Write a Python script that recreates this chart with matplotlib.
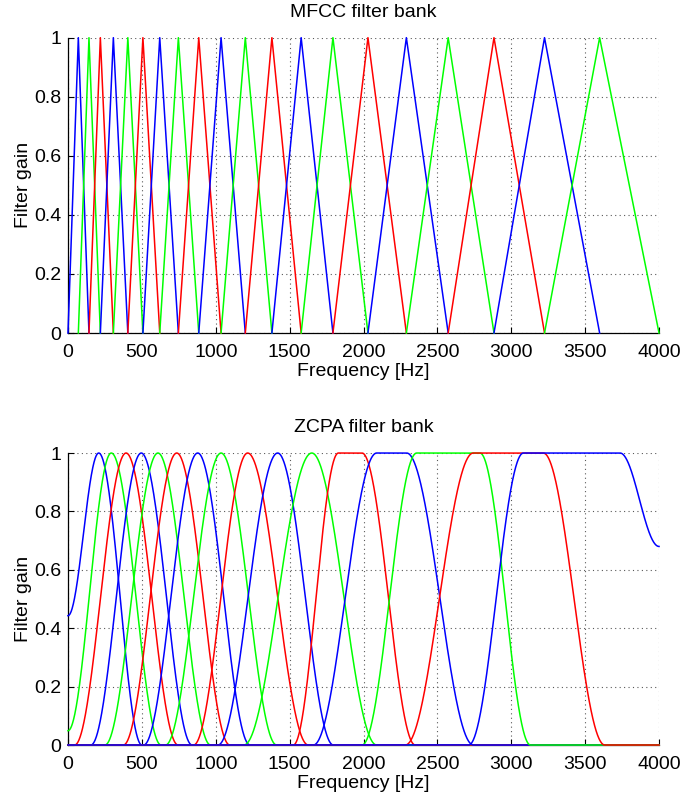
import numpy as np
import matplotlib
matplotlib.use("Agg")
import matplotlib.pyplot as plt

plt.rcParams["font.family"] = ["Liberation Sans", "DejaVu Sans"]

# MFCC: triangle corner frequencies (Hz)
mfcc_edges = [0, 70, 142, 219, 307, 405, 507, 621, 747, 885, 1036, 1200,
              1380, 1578, 1793, 2030, 2290, 2573, 2883, 3225, 3598, 4000]

# ZCPA: per filter lower edge, flat start, flat end, upper edge (Hz)
zcpa_lo = [0, 0, 45, 155, 250, 375, 512, 660, 850, 1015, 1190, 1525, 1661, 1990, 2283, 2712]
zcpa_b = [208, 293, 393, 496, 609, 736, 878, 1036, 1216, 1419, 1650, 1830, 2089, 2360, 2743, 3082]
zcpa_c = [208, 293, 393, 496, 609, 736, 878, 1036, 1216, 1419, 1650, 1990, 2292, 2788, 3217, 3736]
zcpa_hi = [500, 630, 745, 840, 965, 1095, 1232, 1412, 1626, 1796, 2089, 2350, 2744, 3130, 3633, 4000]
# gain at the lower / upper edge (non-zero only where the edge is 0 Hz or 4000 Hz)
zcpa_vlo = [0.443, 0.049, 0, 0, 0, 0, 0, 0, 0, 0, 0, 0, 0, 0, 0, 0]
zcpa_vhi = [0, 0, 0, 0, 0, 0, 0, 0, 0, 0, 0, 0, 0, 0, 0, 0.68]

colors = ["#0000ff", "#00ff00", "#ff0000"]


def smooth_filter(f, a, b, c, d, va, vd):
    h = np.zeros_like(f)
    rise = (f >= a) & (f < b)
    h[rise] = va + (1 - va) * (0.5 - 0.5 * np.cos(np.pi * (f[rise] - a) / (b - a)))
    h[(f >= b) & (f <= c)] = 1.0
    fall = (f > c) & (f <= d)
    h[fall] = vd + (1 - vd) * (0.5 + 0.5 * np.cos(np.pi * (f[fall] - c) / (d - c)))
    return h


def style(ax, title):
    ax.set_xlim(0, 4000)
    ax.set_ylim(0, 1)
    ax.set_xticks(range(0, 4001, 500))
    ax.set_yticks([0, 0.2, 0.4, 0.6, 0.8, 1])
    ax.set_yticklabels(["0", "0.2", "0.4", "0.6", "0.8", "1"])
    ax.tick_params(direction="in", labelsize=14, length=4, width=0.8)
    ax.tick_params(axis="x", pad=8)
    ax.tick_params(axis="y", pad=5)
    ax.grid(True, linestyle=(0, (1, 3)), color="0.35", linewidth=0.8)
    ax.set_xlabel("Frequency [Hz]", fontsize=14, labelpad=1)
    ax.set_ylabel("Filter gain", fontsize=14, labelpad=1)
    ax.set_title(title, fontsize=14, pad=15)
    ax.spines["top"].set_visible(False)
    ax.spines["right"].set_visible(False)
    for s in ("left", "bottom"):
        ax.spines[s].set_linewidth(0.9)


fig = plt.figure(figsize=(6.84, 7.98), dpi=100)
ax1 = fig.add_axes([0.0994, 0.5827, 0.8641, 0.3701])
ax2 = fig.add_axes([0.0994, 0.0664, 0.8641, 0.3659])

# MFCC triangles
for i in range(len(mfcc_edges) - 2):
    ax1.plot(mfcc_edges[i:i + 3], [0, 1, 0], color=colors[i % 3],
             linewidth=1.1, clip_on=False, zorder=3)
style(ax1, "MFCC filter bank")

# ZCPA smooth filters
freq = np.linspace(0, 4000, 2001)
for i in range(len(zcpa_b)):
    h = smooth_filter(freq, zcpa_lo[i], zcpa_b[i], zcpa_c[i], zcpa_hi[i],
                      zcpa_vlo[i], zcpa_vhi[i])
    ax2.plot(freq, h, color=colors[i % 3], linewidth=1.1, clip_on=False, zorder=3)
style(ax2, "ZCPA filter bank")

fig.savefig("out.png", dpi=100)
